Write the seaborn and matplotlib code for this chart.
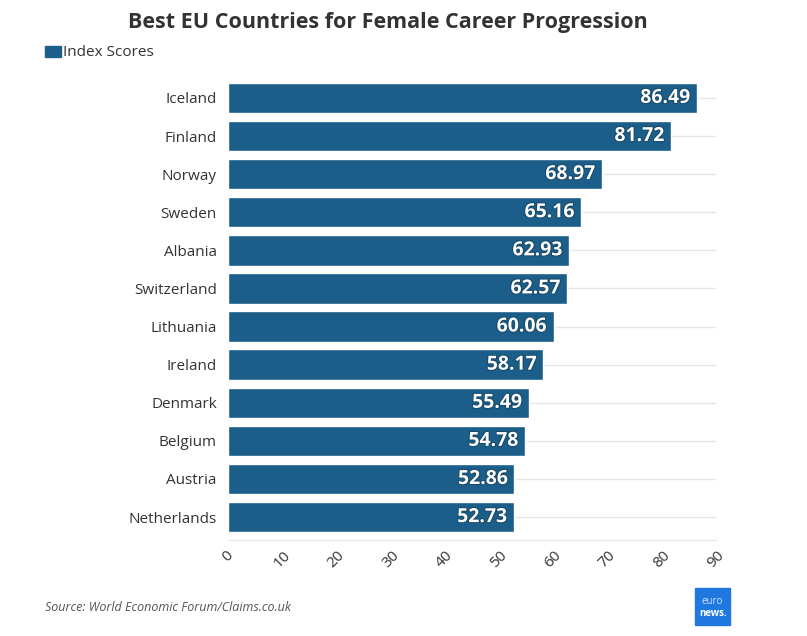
import pandas as pd
import matplotlib.pyplot as plt
import seaborn as sns
from matplotlib.patches import Rectangle
import matplotlib.patheffects as pe

countries = ['Iceland', 'Finland', 'Norway', 'Sweden', 'Albania', 'Switzerland',
             'Lithuania', 'Ireland', 'Denmark', 'Belgium', 'Austria', 'Netherlands']
scores = [86.49, 81.72, 68.97, 65.16, 62.93, 62.57, 60.06, 58.17, 55.49, 54.78, 52.86, 52.73]
x_ticks = [0, 10, 20, 30, 40, 50, 60, 70, 80, 90]

bar_color = '#1b5e8a'

sns.set_style('white')
plt.rcParams['font.family'] = ['Open Sans', 'DejaVu Sans']

df = pd.DataFrame({'country': countries, 'score': scores})

fig = plt.figure(figsize=(8.07, 6.36), dpi=100)
ax = fig.add_axes([0.2825, 0.154, 0.6045, 0.725])

sns.barplot(data=df, x='score', y='country', color=bar_color, saturation=1,
            width=0.8, ax=ax, zorder=3)

for i, v in enumerate(scores):
    ax.text(v - 1.2, i, f'{v:.2f}', ha='right', va='center', color='white',
            fontsize=14, fontweight='bold', zorder=4,
            path_effects=[pe.withStroke(linewidth=1.5, foreground='#174a6a')])

ax.set_xlim(0, 90)
ax.set_ylim(11.55, -0.55)
ax.set_xticks(x_ticks)
ax.set_xticklabels([str(t) for t in x_ticks])
ax.tick_params(axis='y', labelsize=11, colors='#333333', length=0, pad=8)
ax.tick_params(axis='x', labelsize=11, colors='#333333', length=0, pad=6,
               labelrotation=45)
for lab in ax.get_xticklabels():
    lab.set_ha('center')
    lab.set_va('top')
ax.set_xlabel('')
ax.set_ylabel('')

# grid lines at the category centres
ax.yaxis.grid(True, color='#e6e6e6', linewidth=1, zorder=0)
ax.xaxis.grid(False)
for s in ['top', 'right', 'left']:
    ax.spines[s].set_visible(False)
ax.spines['bottom'].set_color('#e6e6e6')
ax.spines['bottom'].set_position(('data', 11.6))

fig.text(0.481, 0.965, 'Best EU Countries for Female Career Progression',
         ha='center', va='center', fontsize=15.5, fontweight='bold', color='#333333')

fig.patches.append(Rectangle((0.056, 0.911), 0.019, 0.016, transform=fig.transFigure,
                             color=bar_color, figure=fig))
fig.text(0.078, 0.918, 'Index Scores', ha='left', va='center', fontsize=11, color='#333333')

fig.text(0.056, 0.045, 'Source: World Economic Forum/Claims.co.uk', ha='left', va='center',
         fontsize=9, style='italic', color='#555555')

# euronews logo block
fig.patches.append(Rectangle((0.861, 0.017), 0.044, 0.058, transform=fig.transFigure,
                             color='#1f78e0', figure=fig))
fig.text(0.883, 0.054, 'euro', ha='center', va='center', fontsize=7, color='#cfe2ff')
fig.text(0.883, 0.036, 'news.', ha='center', va='center', fontsize=7,
         fontweight='bold', color='white')

fig.savefig('out.png', dpi=100)
